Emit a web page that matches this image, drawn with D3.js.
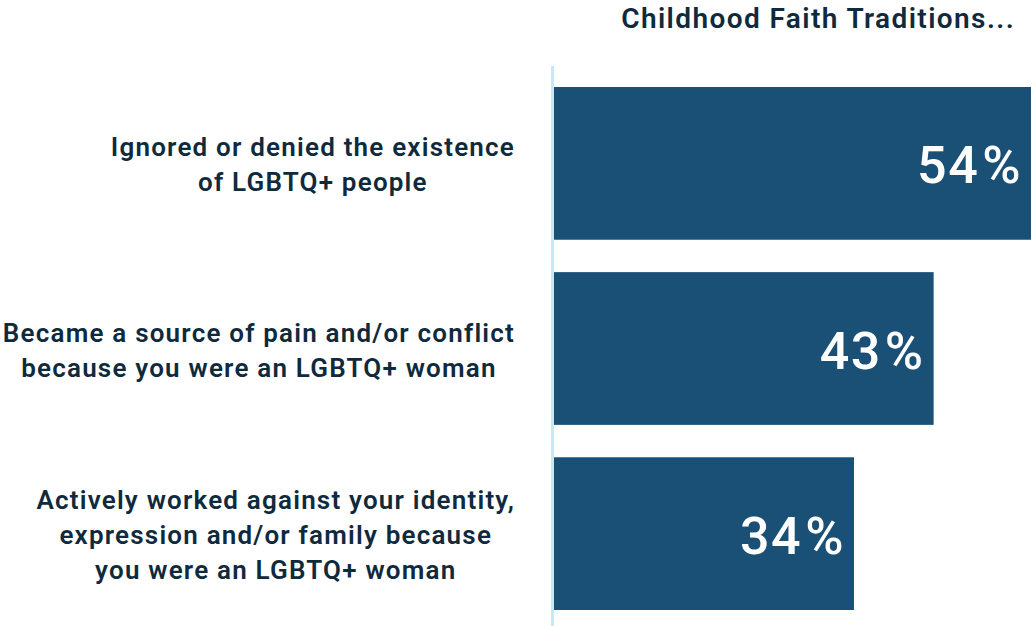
<!DOCTYPE html>
<html>
<head>
<meta charset="utf-8">
<script src="https://cdn.jsdelivr.net/npm/d3@7"></script>
<style>
  html, body { margin: 0; padding: 0; background: #ffffff; }
  svg { display: block; }
  text { font-family: Roboto, "Noto Sans", sans-serif; }
</style>
</head>
<body>
<svg id="chart" width="1033" height="626"></svg>
<script>
// Share of respondents whose childhood faith tradition did each of the following
const categories = [
  ["Ignored or denied the existence", "of LGBTQ+ people"],
  ["Became a source of pain and/or conflict", "because you were an LGBTQ+ woman"],
  ["Actively worked against your identity,", "expression and/or family because", "you were an LGBTQ+ woman"]
];
const values = [54, 43, 34];
const title = "Childhood Faith Traditions...";

const barColor = "#1a4f76";
const textColor = "#0f2a3d";
const axisColor = "#c6e8f7";

const svg = d3.select("#chart");
const W = 1033, H = 626;
const x0 = 553;

const x = d3.scaleLinear().domain([0, 54]).range([x0, 1031]);
const y = d3.scaleBand()
  .domain(d3.range(categories.length))
  .range([87, 610])
  .paddingInner(0.175)
  .paddingOuter(0);

// Title
svg.append("text")
  .attr("x", 1015)
  .attr("y", 28)
  .attr("text-anchor", "end")
  .attr("fill", textColor)
  .attr("font-size", 28)
  .attr("font-weight", 600)
  .attr("letter-spacing", 1.4)
  .text(title);

// Bars
svg.append("g").selectAll("rect")
  .data(values)
  .join("rect")
  .attr("x", x(0))
  .attr("y", (d, i) => y(i))
  .attr("width", d => x(d) - x(0))
  .attr("height", y.bandwidth())
  .attr("fill", barColor);

// Value labels inside bar ends
const vl = svg.append("g").selectAll("text")
  .data(values)
  .join("text")
  .attr("x", d => x(d) - 9)
  .attr("y", (d, i) => y(i) + y.bandwidth() / 2 + 20)
  .attr("text-anchor", "end")
  .attr("fill", "#ffffff")
  .attr("font-size", 52)
  .attr("font-weight", 500)
  .attr("letter-spacing", 1.5);
vl.append("tspan").text(d => d);
vl.append("tspan").attr("dx", 3).text("%");

// Vertical baseline
svg.append("line")
  .attr("x1", x0 - 0.5).attr("x2", x0 - 0.5)
  .attr("y1", 66).attr("y2", H)
  .attr("stroke", axisColor)
  .attr("stroke-width", 3);

// Category labels: centred multi-line blocks, right edge of the widest line at labelRight
const labelRight = 515;
const lineH = 35;
const lg = svg.append("g");
categories.forEach((lines, i) => {
  const cy = y(i) + y.bandwidth() / 2;
  const t = lg.append("text")
    .attr("fill", textColor)
    .attr("font-size", 26)
    .attr("font-weight", 600)
    .attr("letter-spacing", 1.2)
    .attr("text-anchor", "middle");
  const spans = lines.map((s, j) => t.append("tspan")
    .attr("y", cy + (j - (lines.length - 1) / 2) * lineH + 10.5)
    .text(s));
  const maxW = d3.max(spans, s => s.node().getComputedTextLength());
  spans.forEach(s => s.attr("x", labelRight - maxW / 2));
});
</script>
</body>
</html>
